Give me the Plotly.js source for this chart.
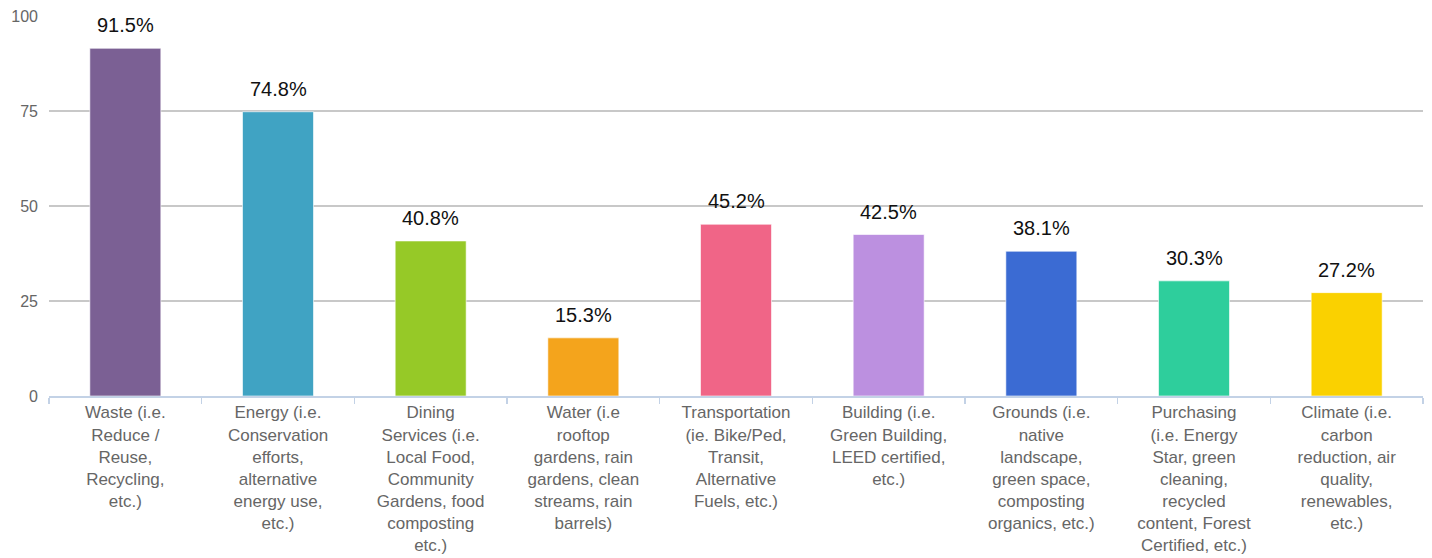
<!DOCTYPE html>
<html>
<head>
<meta charset="utf-8">
<script src="https://cdn.plot.ly/plotly-3.0.1.min.js"></script>
<style>
  html, body { margin: 0; padding: 0; background: #ffffff; }
  #chart { width: 1432px; height: 558px; }
</style>
</head>
<body>
<div id="chart"></div>
<script>
const categories = [
  "Waste (i.e.<br>Reduce /<br>Reuse,<br>Recycling,<br>etc.)",
  "Energy (i.e.<br>Conservation<br>efforts,<br>alternative<br>energy use,<br>etc.)",
  "Dining<br>Services (i.e.<br>Local Food,<br>Community<br>Gardens, food<br>composting<br>etc.)",
  "Water (i.e<br>rooftop<br>gardens, rain<br>gardens, clean<br>streams, rain<br>barrels)",
  "Transportation<br>(ie. Bike/Ped,<br>Transit,<br>Alternative<br>Fuels, etc.)",
  "Building (i.e.<br>Green Building,<br>LEED certified,<br>etc.)",
  "Grounds (i.e.<br>native<br>landscape,<br>green space,<br>composting<br>organics, etc.)",
  "Purchasing<br>(i.e. Energy<br>Star, green<br>cleaning,<br>recycled<br>content, Forest<br>Certified, etc.)",
  "Climate (i.e.<br>carbon<br>reduction, air<br>quality,<br>renewables,<br>etc.)"
];
const values = [91.5, 74.8, 40.8, 15.3, 45.2, 42.5, 38.1, 30.3, 27.2];
const barColors = ["#7B6094", "#40A3C3", "#96C927", "#F4A41C", "#F06587", "#BC90E0", "#3B6BD3", "#2ECE9C", "#FAD100"];
const yTicks = [0, 25, 50, 75, 100];

const FONT = "'Liberation Sans', Arial, Helvetica, sans-serif";

const trace = {
  type: "bar",
  x: categories,
  y: values,
  marker: { color: barColors, line: { color: "rgba(255,255,255,0.6)", width: 1 } },
  hoverinfo: "skip"
};

const annotations = values.map((v, i) => ({
  x: categories[i],
  y: v,
  xref: "x",
  yref: "y",
  text: v.toFixed(1) + "%",
  showarrow: false,
  yanchor: "bottom",
  yshift: 10,
  font: { family: FONT, size: 20, color: "#111111" }
}));

const layout = {
  width: 1432,
  height: 558,
  margin: { l: 49, r: 9, t: 16, b: 162 },
  paper_bgcolor: "#ffffff",
  plot_bgcolor: "#ffffff",
  showlegend: false,
  bargap: 0.535,
  font: { family: FONT },
  xaxis: {
    type: "category",
    showline: true,
    linecolor: "#C3D2E6",
    linewidth: 2,
    ticks: "outside",
    tickson: "boundaries",
    ticklen: 6,
    tickwidth: 1.5,
    tickcolor: "#C3D2E6",
    showgrid: false,
    tickfont: { family: FONT, size: 17, color: "#666666" },
    fixedrange: true
  },
  yaxis: {
    range: [0, 100],
    tickvals: yTicks,
    ticktext: yTicks.map(String),
    showgrid: true,
    gridcolor: "#C8C8C8",
    gridwidth: 1.5,
    zeroline: false,
    showline: false,
    ticks: "",
    ticklabelstandoff: 10,
    tickfont: { family: FONT, size: 16, color: "#666666" },
    fixedrange: true
  },
  annotations: annotations
};

Plotly.newPlot("chart", [trace], layout, { displayModeBar: false, staticPlot: true });
</script>
</body>
</html>
